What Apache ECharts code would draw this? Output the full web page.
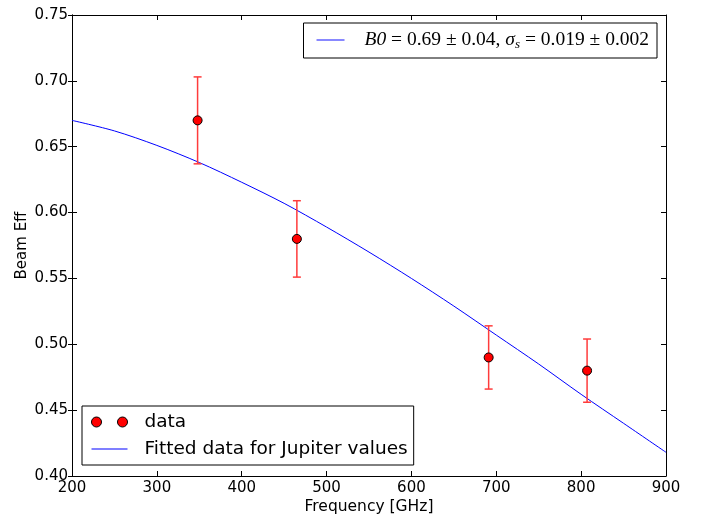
<!DOCTYPE html>
<html>
<head>
<meta charset="utf-8">
<script src="https://cdn.jsdelivr.net/npm/echarts@6/dist/echarts.min.js"></script>
<style>html,body{margin:0;padding:0;background:#fff;}#c{width:705px;height:517px;}</style>
</head>
<body>
<div id="c"></div>
<script>
// ---- data ----
var dataFreq = [348, 465, 691, 807];
var dataEff = [0.670, 0.580, 0.490, 0.480];
var dataErr = [0.033, 0.029, 0.024, 0.024];
var fitFreq = [200, 250, 300, 350, 400, 450, 500, 550, 600, 650, 700, 750, 800, 850, 900];
var fitEff = [0.670, 0.662, 0.651, 0.638, 0.623, 0.607, 0.589, 0.570, 0.550, 0.529, 0.507, 0.485, 0.462, 0.440, 0.418];
var xTicks = [200, 300, 400, 500, 600, 700, 800, 900];
var yTicks = [0.40, 0.45, 0.50, 0.55, 0.60, 0.65, 0.70, 0.75];
var dataName = 'data';
var fitName = 'Fitted data for Jupiter values';
var xTitle = 'Frequency [GHz]';
var yTitle = 'Beam Eff';

var chart = echarts.init(document.getElementById('c'), null, {renderer: 'canvas'});

var scatterData = dataFreq.map(function (f, i) { return [f, dataEff[i]]; });
var errData = dataFreq.map(function (f, i) { return [f, dataEff[i] - dataErr[i], dataEff[i] + dataErr[i]]; });
var fitData = fitFreq.map(function (f, i) { return [f, fitEff[i]]; });

var font = 'DejaVu Sans';
var serif = 'Liberation Serif';
var twoDots = 'path://M0,5a5,5 0 1,0 10,0a5,5 0 1,0 -10,0M26,5a5,5 0 1,0 10,0a5,5 0 1,0 -10,0';
var lineIcon = 'path://M0,0L30,0L30,1L0,1Z';

function axis(extra) {
  return Object.assign({
    type: 'value',
    axisLine: {show: true, onZero: false, lineStyle: {color: '#000', width: 1}},
    axisTick: {show: true, inside: true, length: 5, lineStyle: {color: '#000', width: 1}},
    axisLabel: {show: false},
    splitLine: {show: false}
  }, extra);
}

var xMin = xTicks[0], xMax = xTicks[xTicks.length - 1];
var yMin = yTicks[0], yMax = yTicks[yTicks.length - 1];

var option = {
  backgroundColor: '#fff',
  animation: false,
  grid: {left: 72, right: 39, top: 15, bottom: 41, containLabel: false, outerBoundsMode: 'none'},
  xAxis: [
    axis({
      min: xMin, max: xMax, interval: 100, position: 'bottom',
      name: xTitle, nameLocation: 'middle', nameGap: 23, nameMoveOverlap: false,
      nameTextStyle: {fontFamily: font, fontSize: 15.5, color: '#000'},
      axisLabel: {show: true, fontFamily: font, fontSize: 15, color: '#000', margin: 5}
    }),
    axis({min: xMin, max: xMax, interval: 100, position: 'top'})
  ],
  yAxis: [
    axis({
      min: yMin, max: yMax, interval: 0.05, position: 'left',
      name: yTitle, nameLocation: 'middle', nameGap: 42, nameMoveOverlap: false,
      nameTextStyle: {fontFamily: font, fontSize: 15, color: '#000'},
      axisTick: {show: true, inside: false, length: 4, lineStyle: {color: '#000', width: 1}},
      axisLabel: {show: true, fontFamily: font, fontSize: 15, color: '#000', margin: 4,
        formatter: function (v) { return v.toFixed(2); }}
    }),
    axis({min: yMin, max: yMax, interval: 0.05, position: 'right'}),
    axis({min: yMin, max: yMax, interval: 0.05, position: 'left'})
  ],
  legend: [
    {
      data: [{name: fitName, icon: lineIcon, itemStyle: {color: '#0000ff'}}],
      orient: 'horizontal',
      right: 48, top: 23,
      backgroundColor: '#fff', borderColor: '#000', borderWidth: 1, borderRadius: 0,
      padding: [7, 8, 7, 13],
      itemWidth: 28, itemHeight: 2,
      selectedMode: false,
      formatter: function () {
        return '{i|B0}{n| = 0.69 ± 0.04, }{i|σ}{s|s}{n| = 0.019 ± 0.002}';
      },
      textStyle: {
        padding: [0, 0, 0, 15],
        rich: {
          i: {fontFamily: serif, fontStyle: 'italic', fontSize: 19.5, color: '#000'},
          n: {fontFamily: serif, fontSize: 19.5, color: '#000'},
          s: {fontFamily: serif, fontStyle: 'italic', fontSize: 13, color: '#000', padding: [9, 0, 0, 0]}
        }
      }
    },
    {
      data: [
        {name: dataName, icon: twoDots, itemStyle: {color: '#ff0000', borderColor: '#000', borderWidth: 1}},
        {name: fitName, icon: lineIcon, itemStyle: {color: '#0000ff'}}
      ],
      orient: 'vertical',
      left: 82, top: 406,
      backgroundColor: '#fff', borderColor: '#000', borderWidth: 1, borderRadius: 0,
      padding: [6, 6, 6, 9],
      itemWidth: 36, itemHeight: 10,
      itemGap: 7,
      selectedMode: false,
      textStyle: {fontFamily: font, fontSize: 18.5, lineHeight: 20, color: '#000', padding: [0, 0, 0, 12]}
    }
  ],
  series: [
    {
      name: fitName,
      type: 'line',
      data: fitData,
      smooth: 0.3,
      showSymbol: false,
      lineStyle: {color: '#0000ff', width: 1},
      itemStyle: {color: '#0000ff'},
      z: 2
    },
    {
      name: 'err',
      type: 'custom',
      data: errData,
      renderItem: function (params, api) {
        var x = api.value(0);
        var lo = api.coord([x, api.value(1)]);
        var hi = api.coord([x, api.value(2)]);
        var cw = 4;
        var st = {stroke: '#ff3b3b', lineWidth: 1.5};
        return {
          type: 'group',
          children: [
            {type: 'line', shape: {x1: lo[0], y1: lo[1], x2: hi[0], y2: hi[1]}, style: st},
            {type: 'line', shape: {x1: lo[0] - cw, y1: lo[1], x2: lo[0] + cw, y2: lo[1]}, style: st},
            {type: 'line', shape: {x1: hi[0] - cw, y1: hi[1], x2: hi[0] + cw, y2: hi[1]}, style: st}
          ]
        };
      },
      z: 3
    },
    {
      name: dataName,
      type: 'scatter',
      data: scatterData,
      symbol: 'circle',
      symbolSize: 9,
      itemStyle: {color: '#ff0000', borderColor: '#000', borderWidth: 1, opacity: 1},
      z: 4
    }
  ]
};
chart.setOption(option);
</script>
</body>
</html>
